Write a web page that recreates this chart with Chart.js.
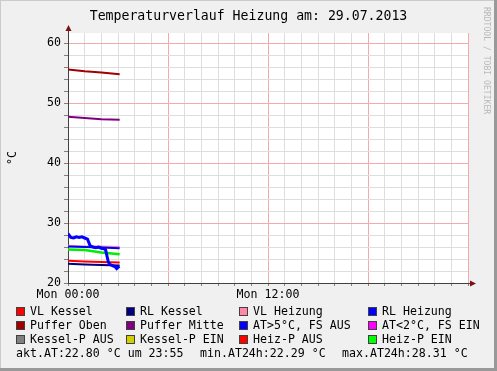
<!DOCTYPE html>
<html>
<head>
<meta charset="utf-8">
<script src="https://cdn.jsdelivr.net/npm/chart.js@4/dist/chart.umd.min.js"></script>
<style>
  html, body { margin: 0; padding: 0; background: #f0f0f0; }
  #wrap { position: relative; width: 497px; height: 371px; overflow: hidden; }
  #c { position: absolute; left: 0; top: 0; }
  .lg { position: absolute; font-family: "DejaVu Sans Mono", monospace; font-size: 11.6px; color: #000; white-space: pre; line-height: 14px; }
  .bx { position: absolute; width: 7px; height: 7px; border: 1px solid #404040; }
  #rrd { position: absolute; left: 482px; top: 7px; writing-mode: vertical-rl; font-family: "DejaVu Sans Mono", monospace; font-size: 8.1px; color: #b8b8b8; white-space: pre; }
</style>
</head>
<body>
<div id="wrap">
  <canvas id="c" width="497" height="371"></canvas>
  <div id="rrd">RRDTOOL / TOBI OETIKER</div>
  <div id="legend"></div>
</div>
<script>
// ---- data (hours since Mon 00:00, °C) ----
const titleText = "Temperaturverlauf Heizung am: 29.07.2013";
const xTickLabels = { 0: "Mon 00:00", 12: "Mon 12:00" };
const yTickLabels = [20, 30, 40, 50, 60];

const timesSlow = [0, 1, 2, 3.1];
const vlKessel   = [23.7, 23.6, 23.5, 23.4];
const rlKessel   = [23.2, 23.1, 23.0, 22.9];
const vlHeizung  = [26.2, 26.1, 26.1, 26.0];
const rlHeizung  = [26.1, 26.0, 25.9, 25.8];
const pufferOben = [55.6, 55.3, 55.1, 54.8];
const pufferMitte= [47.7, 47.5, 47.3, 47.2];
const heizPEin   = [25.6, 25.5, 25.1, 24.8];

const timesAT = [0, 0.17, 0.33, 0.5, 0.67, 0.83, 1.0, 1.17, 1.33, 1.5, 1.67, 1.83, 2.0, 2.17, 2.25, 2.33, 2.42, 2.5, 2.67, 2.83, 2.92, 3.0, 3.08];
const atValues = [28.2, 27.6, 27.5, 27.7, 27.6, 27.7, 27.5, 27.3, 26.2, 26.0, 25.9, 26.0, 25.8, 25.7, 25.6, 24.6, 23.5, 23.1, 22.9, 22.7, 22.4, 22.6, 22.8];

const legendNames = ["VL Kessel", "RL Kessel", "VL Heizung", "RL Heizung",
  "Puffer Oben", "Puffer Mitte", "AT>5°C, FS AUS", "AT<2°C, FS EIN",
  "Kessel-P AUS", "Kessel-P EIN", "Heiz-P AUS", "Heiz-P EIN"];
const legendColors = ["#ff0000", "#000080", "#ff88a8", "#0000ff",
  "#a00000", "#800080", "#0000ff", "#ff00ff",
  "#808080", "#d0d000", "#ff0000", "#00ff00"];
const statsTexts = ["akt.AT:22.80 °C um 23:55", "min.AT24h:22.29 °C", "max.AT24h:28.31 °C"];

// ---- legend (HTML text) ----
const colX = [16, 126, 239, 368];
const rowY = [311, 325.3, 339];
const leg = document.getElementById('legend');
legendNames.forEach((name, i) => {
  const col = i % 4, row = Math.floor(i / 4);
  const b = document.createElement('div');
  b.className = 'bx';
  b.style.left = colX[col] + 'px';
  b.style.top = (rowY[row] - 4.5) + 'px';
  b.style.background = legendColors[i];
  leg.appendChild(b);
  const t = document.createElement('div');
  t.className = 'lg';
  t.textContent = name;
  t.style.left = (colX[col] + 14) + 'px';
  t.style.top = (rowY[row] - 7.5) + 'px';
  leg.appendChild(t);
});
const statX = [16, 200, 342];
statsTexts.forEach((s, i) => {
  const t = document.createElement('div');
  t.className = 'lg';
  t.textContent = s;
  t.style.left = statX[i] + 'px';
  t.style.top = (353.3 - 7.5) + 'px';
  leg.appendChild(t);
});

function pts(xs, ys) { return xs.map((x, i) => ({ x: x, y: ys[i] })); }

const bgPlugin = {
  id: 'bg',
  beforeDraw(chart) {
    const { ctx, chartArea: a, width, height } = chart;
    ctx.save();
    ctx.fillStyle = '#f0f0f0';
    ctx.fillRect(0, 0, width, height);
    ctx.fillStyle = '#ffffff';
    ctx.fillRect(a.left, a.top, a.right - a.left, a.bottom - a.top);
    ctx.fillStyle = '#cbcbcb';
    ctx.fillRect(0, 0, width, 1);
    ctx.fillRect(0, 0, 1, height);
    ctx.fillStyle = '#999999';
    ctx.fillRect(width - 3, 0, 3, height);
    ctx.fillRect(0, height - 3, width, 3);
    ctx.restore();
  },
  afterDraw(chart) {
    const { ctx, chartArea: a } = chart;
    ctx.save();
    ctx.strokeStyle = '#404040';
    ctx.lineWidth = 1;
    ctx.beginPath();
    ctx.moveTo(a.left + 0.5, a.top); ctx.lineTo(a.left + 0.5, a.top - 4);
    ctx.moveTo(a.right, a.bottom + 0.5); ctx.lineTo(a.right + 4, a.bottom + 0.5);
    ctx.stroke();
    ctx.fillStyle = '#7f1010';
    ctx.beginPath();
    ctx.moveTo(a.left + 0.5 - 3, a.top - 2);
    ctx.lineTo(a.left + 0.5 + 3, a.top - 2);
    ctx.lineTo(a.left + 0.5, a.top - 8);
    ctx.closePath(); ctx.fill();
    ctx.beginPath();
    ctx.moveTo(a.right + 2, a.bottom + 0.5 - 3);
    ctx.lineTo(a.right + 2, a.bottom + 0.5 + 3);
    ctx.lineTo(a.right + 8, a.bottom + 0.5);
    ctx.closePath(); ctx.fill();
    ctx.restore();
  }
};

function ds(label, xs, ys, color, width, order) {
  return { label, data: pts(xs, ys), borderColor: color, backgroundColor: color,
    borderWidth: width, pointRadius: 0, tension: 0, fill: false, order, yAxisID: 'y' };
}

const minor = '#dedede';
const major = '#f4aaaa';

new Chart(document.getElementById('c'), {
  type: 'line',
  data: {
    datasets: [
      ds('AT>5°C, FS AUS', timesAT, atValues, '#0000ff', 3, 1),
      ds('Puffer Mitte', timesSlow, pufferMitte, '#800080', 2, 2),
      ds('Puffer Oben', timesSlow, pufferOben, '#a00000', 2, 3),
      ds('Heiz-P EIN', timesSlow, heizPEin, '#00ee00', 2.5, 4),
      ds('RL Heizung', timesSlow, rlHeizung, '#0000ff', 2, 5),
      ds('VL Heizung', timesSlow, vlHeizung, '#ff88a8', 2, 6),
      ds('RL Kessel', timesSlow, rlKessel, '#000080', 2, 7),
      ds('VL Kessel', timesSlow, vlKessel, '#ff0000', 2, 8)
    ]
  },
  plugins: [bgPlugin],
  options: {
    responsive: false,
    animation: false,
    layout: { padding: { left: 0, right: 0, top: 0, bottom: 68 } },
    plugins: {
      legend: { display: false },
      tooltip: { enabled: false },
      title: {
        display: true, text: titleText, color: '#000',
        font: { family: 'DejaVu Sans Mono', size: 13.2, weight: 'normal' },
        padding: { top: 8.6, bottom: 8.56 }
      }
    },
    scales: {
      x: {
        type: 'linear', min: 0, max: 24,
        afterFit(s) { s.height = 20; },
        ticks: {
          stepSize: 1, autoSkip: false, maxRotation: 0, color: '#000', padding: 2,
          font: { family: 'DejaVu Sans Mono', size: 11.6 },
          callback: (v) => (xTickLabels[v] !== undefined ? xTickLabels[v] : '')
        },
        grid: {
          color: (c) => (c.index % 6 === 0 ? major : minor),
          tickColor: '#808080', tickLength: 3, lineWidth: 1
        },
        border: { color: '#404040', width: 1 }
      },
      y: {
        min: 20, max: 61.667,
        afterFit(s) { s.width = 68; },
        title: {
          display: true, text: '°C', color: '#000',
          font: { family: 'DejaVu Sans Mono', size: 11.6 },
          padding: { top: 6, bottom: 0 }
        },
        ticks: {
          stepSize: 2, includeBounds: false, autoSkip: false, color: '#000', padding: 3,
          font: { family: 'DejaVu Sans Mono', size: 11.6 },
          callback: (v) => (yTickLabels.includes(v) ? String(v) : '')
        },
        grid: { color: minor, tickColor: '#808080', tickLength: 4, lineWidth: 1 },
        border: { color: '#404040', width: 1 }
      },
      yR: {
        position: 'right', min: 20, max: 61.667,
        afterFit(s) { s.width = 29; },
        ticks: { display: false, stepSize: 10, includeBounds: false },
        grid: { display: true, color: major, lineWidth: 1, drawTicks: false },
        border: { display: false }
      }
    }
  }
});
</script>
</body>
</html>
